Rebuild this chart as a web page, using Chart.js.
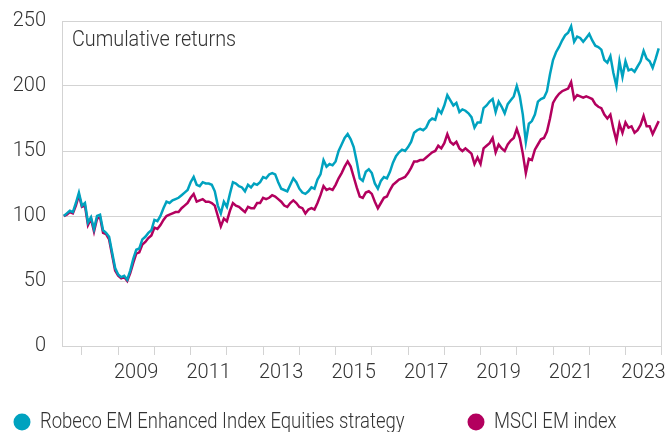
<!DOCTYPE html>
<html>
<head>
<meta charset="utf-8">
<script src="https://cdn.jsdelivr.net/npm/chart.js@4.4.1/dist/chart.umd.min.js"></script>
<style>
  html, body { margin: 0; padding: 0; background: #fff; overflow: hidden; }
  #wrap { width: 666px; height: 432px; position: relative; }
</style>
</head>
<body>
<div id="wrap"><canvas id="chart"></canvas></div>
<script>
// monthly values, Jul 2007 to Dec 2023, rebased to 100
const firstMonth = 2007.5;
const robeco = [
  100, 102, 104, 103, 110, 118, 108, 110, 95, 99, 90, 100,
  101, 89, 87, 84, 72, 60, 55, 53, 54, 51, 58, 67,
  74, 75, 82, 84, 87, 89, 97, 96, 100, 106, 111, 110,
  112, 113, 114, 116, 118, 120, 126, 130, 124, 123, 126, 125,
  125, 124, 119, 108, 102, 111, 107, 117, 126, 125, 123, 122,
  119, 124, 122, 125, 124, 126, 130, 129, 132, 133, 132, 126,
  121, 120, 119, 124, 129, 126, 121, 118, 117, 119, 122, 121,
  128, 132, 143, 138, 140, 139, 142, 150, 155, 160, 163, 159,
  153, 142, 129, 127, 134, 136, 133, 125, 121, 127, 130, 129,
  134, 141, 146, 149, 151, 150, 153, 157, 164, 166, 167, 166,
  168, 173, 175, 174, 182, 179, 185, 193, 189, 185, 187, 180,
  182, 181, 179, 176, 168, 172, 172, 183, 185, 188, 190, 180,
  188, 184, 179, 186, 189, 192, 200, 192, 178, 157, 171, 173,
  178, 188, 190, 191, 196, 209, 220, 226, 230, 235, 239, 241,
  246, 234, 238, 237, 234, 237, 240, 235, 231, 230, 228, 220,
  218, 223, 210, 200, 219, 207, 219, 212, 213, 211, 215, 219,
  227, 221, 219, 214, 221, 229
];
const msci = [
  100, 101, 103, 102, 108, 116, 107, 108, 93, 98, 88, 98,
  99, 87, 86, 82, 70, 58, 54, 52, 53, 50, 56, 64,
  71, 72, 78, 80, 83, 85, 91, 90, 93, 97, 100, 101,
  102, 103, 103, 106, 108, 110, 114, 117, 111, 112, 113, 111,
  111, 110, 108, 100, 92, 98, 96, 104, 110, 108, 107, 105,
  103, 107, 106, 106, 110, 110, 114, 113, 114, 116, 115, 113,
  111, 108, 107, 110, 112, 110, 107, 106, 102, 105, 106, 105,
  110, 116, 123, 120, 121, 120, 124, 129, 133, 138, 142, 138,
  130, 122, 115, 114, 118, 119, 117, 111, 106, 110, 114, 115,
  120, 124, 126, 128, 129, 130, 133, 137, 142, 142, 143, 143,
  145, 147, 149, 150, 154, 152, 156, 163, 157, 155, 157, 152,
  150, 152, 150, 148, 140, 145, 140, 152, 154, 156, 160, 149,
  155, 152, 150, 155, 158, 160, 167, 160, 148, 133, 144, 143,
  151, 155, 159, 160, 165, 175, 187, 191, 194, 196, 197, 198,
  203, 190, 193, 192, 191, 192, 191, 190, 186, 184, 183, 178,
  175, 178, 167, 158, 171, 164, 172, 168, 169, 164, 166, 170,
  177, 169, 169, 163, 168, 173
];
const seriesNames = ['Robeco EM Enhanced Index Equities strategy', 'MSCI EM index'];
const seriesColors = ['#00a2bf', '#b3005e'];
const yearLabels = [2009, 2011, 2013, 2015, 2017, 2019, 2021, 2023];

const FONT = 'Roboto, "Open Sans", sans-serif';
const TEXT = '#333333';
const GRID = '#d3d3d3';

function toPoints(values) {
  return values.map((v, i) => ({ x: firstMonth + i / 12, y: v }));
}

// the original uses a slightly narrow face, so squeeze the hand drawn texts a bit
function narrowText(ctx, text, x, y, squeeze) {
  ctx.save();
  ctx.translate(x, y);
  ctx.scale(squeeze, 1);
  ctx.fillText(text, 0, 0);
  ctx.restore();
}

// frame on the right side and the title inside the plot
const framePlugin = {
  id: 'frame',
  afterDraw(chart) {
    const { ctx, chartArea } = chart;
    ctx.save();
    ctx.strokeStyle = GRID;
    ctx.lineWidth = 1;
    ctx.beginPath();
    ctx.moveTo(chartArea.right + 0.5, chartArea.top);
    ctx.lineTo(chartArea.right + 0.5, chartArea.bottom + 9);
    ctx.stroke();
    ctx.fillStyle = TEXT;
    ctx.font = '300 22px ' + FONT;
    ctx.textBaseline = 'middle';
    narrowText(ctx, 'Cumulative returns', chartArea.left + 10, chartArea.top + 19, 0.9);
    ctx.restore();
  }
};

// legend at the bottom, partly cut by the page edge like the original
const legendPlugin = {
  id: 'bottomLegend',
  afterDraw(chart) {
    const { ctx } = chart;
    const spots = [22, 476];
    const y = 422;
    ctx.save();
    ctx.font = '300 22px ' + FONT;
    ctx.textBaseline = 'middle';
    chart.data.datasets.forEach((ds, i) => {
      ctx.fillStyle = ds.borderColor;
      ctx.beginPath();
      ctx.arc(spots[i], y, 8.5, 0, Math.PI * 2);
      ctx.fill();
      ctx.fillStyle = TEXT;
      narrowText(ctx, ds.label, spots[i] + 18, y, 0.84);
    });
    ctx.restore();
  }
};

new Chart(document.getElementById('chart'), {
  type: 'line',
  data: {
    datasets: [
      { label: seriesNames[0], data: toPoints(robeco), borderColor: seriesColors[0], backgroundColor: seriesColors[0] },
      { label: seriesNames[1], data: toPoints(msci), borderColor: seriesColors[1], backgroundColor: seriesColors[1] }
    ]
  },
  options: {
    responsive: true,
    maintainAspectRatio: false,
    animation: false,
    layout: { padding: { top: 21, right: 5, left: 0, bottom: 0 } },
    elements: {
      line: { borderWidth: 2.5, tension: 0 },
      point: { radius: 0 }
    },
    plugins: {
      legend: { display: false },
      tooltip: { enabled: false }
    },
    scales: {
      x: {
        type: 'linear',
        min: 2007.45,
        max: 2023.98,
        afterFit: (s) => { s.height = 86; },
        grid: { drawOnChartArea: false, color: GRID, tickLength: 9 },
        border: { color: GRID },
        ticks: {
          stepSize: 1,
          includeBounds: false,
          autoSkip: false,
          maxRotation: 0,
          labelOffset: 18,
          padding: 6,
          color: TEXT,
          font: { family: FONT, size: 20, weight: '300' },
          callback: (v) => yearLabels.includes(v) ? String(v) : ''
        }
      },
      y: {
        min: 0,
        max: 250,
        // keep the label gap horizontal only, top edge comes from layout padding
        afterFit: (s) => { s.width = 62; s.paddingTop = 0; s.paddingBottom = 0; },
        grid: { color: GRID, drawTicks: false },
        border: { color: GRID },
        ticks: {
          stepSize: 50,
          padding: 16,
          color: TEXT,
          font: { family: FONT, size: 20, weight: '300' }
        }
      }
    }
  },
  plugins: [framePlugin, legendPlugin]
});
</script>
</body>
</html>
